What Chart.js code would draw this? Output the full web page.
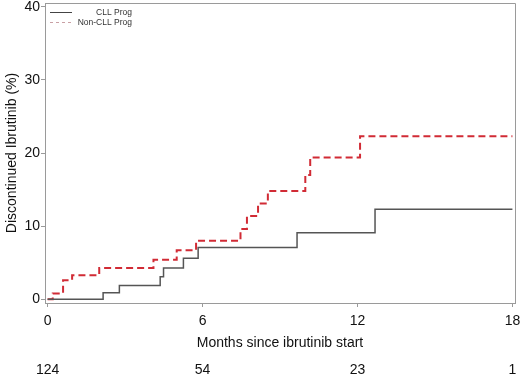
<!DOCTYPE html>
<html>
<head>
<meta charset="utf-8">
<script src="https://cdn.jsdelivr.net/npm/chart.js@4"></script>
<style>
  body { margin: 0; background: #fff; }
  #wrap { width: 520px; height: 384px; position: relative; }
</style>
</head>
<body>
<div id="wrap"><canvas id="km-chart"></canvas></div>
<script>
// months at which each curve steps up, and the cumulative % after the step
var cllMonths = [0, 2.15, 2.78, 4.36, 4.49, 5.26, 5.83, 9.66, 12.68, 18];
var cllValues = [0, 0.9, 1.9, 3.1, 4.3, 5.6, 7.1, 9.1, 12.3, 12.3];

var nonCllMonths = [0, 0.2, 0.6, 0.95, 2.0, 4.1, 5.0, 5.75, 7.47, 7.72, 8.15, 8.53, 9.98, 10.17, 12.1, 18];
var nonCllValues = [0, 0.8, 2.6, 3.3, 4.3, 5.4, 6.7, 8.0, 9.6, 11.4, 13.1, 14.8, 17.0, 19.4, 22.3, 22.3];

var xTicks = [0, 6, 12, 18];
var yTicks = [0, 10, 20, 30, 40];

// number at risk under the x axis
var riskMonths = [0, 6, 12, 18];
var riskCounts = [124, 54, 23, 1];

var seriesNames = ['CLL Prog', 'Non-CLL Prog'];

var fontFamily = '"Liberation Sans", Arial, sans-serif';
var axisColor = '#9a9a9a';

function toPoints(xs, ys) {
    let pts = [];
    for (let i = 0; i < xs.length; i++) {
        pts.push({ x: xs[i], y: ys[i] });
    }
    return pts;
}

// no extra room for labels that hang over the plot edges
function noEdgePadding(scale) {
    scale.paddingLeft = 0;
    scale.paddingRight = 0;
    scale.paddingTop = 0;
    scale.paddingBottom = 0;
}

// frame around the plot + legend + at-risk row
var extrasPlugin = {
    id: 'extras',
    afterDraw: function (chart) {
        let ctx = chart.ctx;
        let area = chart.chartArea;
        ctx.save();

        // box
        ctx.strokeStyle = axisColor;
        ctx.lineWidth = 1;
        ctx.beginPath();
        ctx.moveTo(area.left, area.top + 0.5);
        ctx.lineTo(area.right + 0.5, area.top + 0.5);
        ctx.lineTo(area.right + 0.5, area.bottom);
        ctx.stroke();

        // legend
        ctx.font = '8.5px ' + fontFamily;
        ctx.fillStyle = '#333';
        ctx.textAlign = 'right';
        ctx.textBaseline = 'middle';

        ctx.strokeStyle = '#444';
        ctx.lineWidth = 1;
        ctx.setLineDash([]);
        ctx.beginPath();
        ctx.moveTo(50, 12.5);
        ctx.lineTo(72, 12.5);
        ctx.stroke();
        ctx.fillText(seriesNames[0], 132, 13);

        ctx.strokeStyle = '#c9a0a4';
        ctx.setLineDash([3, 3]);
        ctx.beginPath();
        ctx.moveTo(50, 22.5);
        ctx.lineTo(72, 22.5);
        ctx.stroke();
        ctx.setLineDash([]);
        ctx.fillText(seriesNames[1], 132, 23);

        // number at risk
        let xScale = chart.scales.x;
        ctx.font = '14px ' + fontFamily;
        ctx.fillStyle = '#111';
        ctx.textAlign = 'center';
        for (let i = 0; i < riskMonths.length; i++) {
            ctx.fillText(String(riskCounts[i]), xScale.getPixelForValue(riskMonths[i]), 370);
        }

        ctx.restore();
    }
};

let ctx = document.getElementById('km-chart').getContext('2d');

let chart = new Chart(ctx, {
    type: 'line',
    data: {
        datasets: [{
            label: seriesNames[0],
            data: toPoints(cllMonths, cllValues),
            borderColor: '#555555',
            borderWidth: 1.5,
            stepped: 'before',
            pointRadius: 0,
            fill: false
        }, {
            label: seriesNames[1],
            data: toPoints(nonCllMonths, nonCllValues),
            borderColor: '#d12b35',
            borderWidth: 2,
            borderDash: [7, 4],
            stepped: 'before',
            pointRadius: 0,
            fill: false
        }]
    },
    options: {
        responsive: true,
        maintainAspectRatio: false,
        animation: false,
        layout: {
            padding: { top: 3, right: 5, bottom: 31, left: 0 }
        },
        plugins: {
            legend: { display: false },
            tooltip: { enabled: false }
        },
        scales: {
            x: {
                type: 'linear',
                min: -0.1,
                max: 18.1,
                afterBuildTicks: function (scale) {
                    scale.ticks = xTicks.map(function (v) { return { value: v }; });
                },
                afterFit: function (scale) {
                    scale.height = 50;
                    noEdgePadding(scale);
                },
                grid: {
                    drawOnChartArea: false,
                    drawTicks: true,
                    tickLength: 4,
                    color: axisColor
                },
                border: { color: axisColor, width: 1 },
                ticks: {
                    padding: 6,
                    maxRotation: 0,
                    color: '#111',
                    font: { family: fontFamily, size: 14 }
                },
                title: {
                    display: true,
                    text: 'Months since ibrutinib start',
                    color: '#111',
                    padding: { top: 0, bottom: 1 },
                    font: { family: fontFamily, size: 14 }
                }
            },
            y: {
                type: 'linear',
                min: -0.5,
                max: 40.5,
                afterBuildTicks: function (scale) {
                    scale.ticks = yTicks.map(function (v) { return { value: v }; });
                },
                afterFit: function (scale) {
                    scale.width = 45;
                    noEdgePadding(scale);
                },
                grid: {
                    drawOnChartArea: false,
                    drawTicks: true,
                    tickLength: 4,
                    color: axisColor
                },
                border: { color: axisColor, width: 1 },
                ticks: {
                    padding: 1,
                    color: '#111',
                    font: { family: fontFamily, size: 14 }
                },
                title: {
                    display: true,
                    text: 'Discontinued Ibrutinib (%)',
                    color: '#111',
                    padding: { top: 4, bottom: 0 },
                    font: { family: fontFamily, size: 14 }
                }
            }
        }
    },
    plugins: [extrasPlugin]
});
</script>
</body>
</html>
